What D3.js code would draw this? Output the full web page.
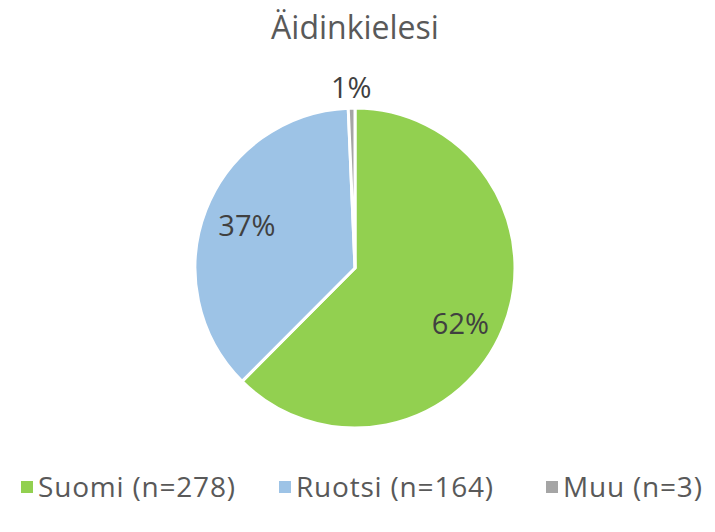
<!DOCTYPE html>
<html><head><meta charset="utf-8">
<script src="https://cdn.jsdelivr.net/npm/d3@7"></script>
<style>body{margin:0;background:#fff}</style>
</head><body>
<svg id="c" width="715" height="532"></svg>
<script>
const categories = ["Suomi", "Ruotsi", "Muu"];
const counts = [278, 164, 3];
const pctLabels = ["62%", "37%", "1%"];
const legendLabels = ["Suomi (n=278)", "Ruotsi (n=164)", "Muu (n=3)"];
const colors = ["#92D050", "#9DC3E6", "#A5A5A5"];
const title = "Äidinkielesi";

const svg = d3.select("#c");
const font = "'Open Sans', sans-serif";
const cx = 355, cy = 268, r = 160;

svg.append("text").attr("x", 355).attr("y", 39).attr("text-anchor", "middle")
  .attr("font-family", font).attr("font-size", 32).attr("fill", "#595959").text(title);

const pie = d3.pie().sort(null).value(d => d)(counts);
const arc = d3.arc().innerRadius(0).outerRadius(r);
const g = svg.append("g").attr("transform", `translate(${cx},${cy})`);
g.selectAll("path").data(pie).join("path")
  .attr("d", arc).attr("fill", (d, i) => colors[i])
  .attr("stroke", "#fff").attr("stroke-width", 3).attr("stroke-linejoin", "round");

const labelPos = [0.74, 0.725, 1.13];
const nudge = [[-4, 10], [0, 0], [0, 0]];
g.selectAll("text.lbl").data(pie).join("text").attr("class", "lbl")
  .attr("transform", (d, i) => {
    const a = (d.startAngle + d.endAngle) / 2;
    const rr = r * labelPos[i];
    return `translate(${Math.sin(a) * rr + nudge[i][0]},${-Math.cos(a) * rr + nudge[i][1]})`;
  })
  .attr("text-anchor", "middle").attr("dy", "0.36em")
  .attr("font-family", font).attr("font-size", 29).attr("fill", "#404040")
  .text((d, i) => pctLabels[i]);

const legX = [21, 279, 546];
const lg = svg.append("g");
legendLabels.forEach((t, i) => {
  lg.append("rect").attr("x", legX[i]).attr("y", 481).attr("width", 12).attr("height", 12).attr("fill", colors[i]);
  lg.append("text").attr("x", legX[i] + 17).attr("y", 497)
    .attr("font-family", font).attr("font-size", 28).attr("letter-spacing", 0.8)
    .attr("fill", "#595959").text(t);
});
</script>
</body></html>
